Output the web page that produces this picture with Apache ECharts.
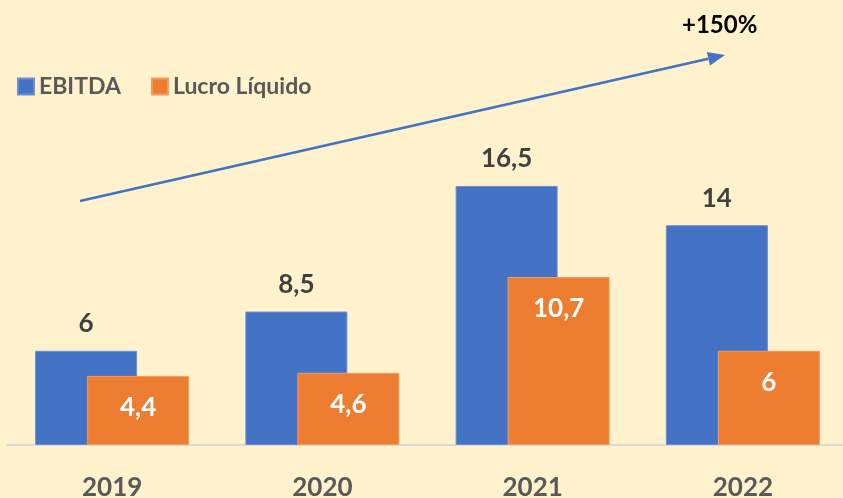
<!DOCTYPE html>
<html>
<head>
<meta charset="utf-8">
<script src="https://cdn.jsdelivr.net/npm/echarts@6/dist/echarts.min.js"></script>
<style>
  html, body { margin: 0; padding: 0; background: #FFF2CC; }
  #chart { width: 843px; height: 498px; }
</style>
</head>
<body>
<div id="chart"></div>
<script>
const years = ['2019', '2020', '2021', '2022']
const ebitda = [6, 8.5, 16.5, 14]
const lucro = [4.4, 4.6, 10.7, 6]

const fmt = p => String(p.value).replace('.', ',')

// seta de crescimento
const a0 = [80, 201]
const a1 = [725, 55]
const dx = a1[0] - a0[0]
const dy = a1[1] - a0[1]
const len = Math.sqrt(dx * dx + dy * dy)
const ux = dx / len
const uy = dy / len
const head = 17
const half = 7
const bx = a1[0] - ux * head
const by = a1[1] - uy * head

const chart = echarts.init(document.getElementById('chart'))
chart.setOption({
  backgroundColor: '#FFF2CC',
  textStyle: { fontFamily: 'Lato' },
  legend: {
    left: 12,
    top: 70,
    itemWidth: 16,
    itemHeight: 16,
    itemGap: 30,
    icon: 'rect',
    textStyle: { fontSize: 23, fontWeight: 'bold', color: '#595959', fontFamily: 'Lato' }
  },
  grid: { left: 7, width: 841, top: 131, bottom: 53, outerBoundsMode: 'none', containLabel: false },
  xAxis: {
    type: 'category',
    data: years,
    axisTick: { show: false },
    axisLine: { lineStyle: { color: '#D9D9D9', width: 2 } },
    axisLabel: { fontSize: 26, fontWeight: 'bold', color: '#595959', margin: 30, fontFamily: 'Lato' }
  },
  yAxis: { type: 'value', min: 0, max: 20, show: false, splitLine: { show: false } },
  series: [
    {
      name: 'EBITDA',
      type: 'bar',
      data: ebitda,
      barWidth: 102,
      barGap: '-49%',
      itemStyle: { color: '#4472C4', borderColor: '#6A8FD3', borderWidth: 1 },
      label: {
        show: true, position: 'top', distance: 14, formatter: fmt,
        fontSize: 26, fontWeight: 'bold', color: '#404040', fontFamily: 'Lato'
      }
    },
    {
      name: 'Lucro Líquido',
      type: 'bar',
      data: lucro,
      barWidth: 102,
      itemStyle: { color: '#ED7D31', borderColor: '#F29C62', borderWidth: 1 },
      label: {
        show: true, position: 'insideTop', distance: 19, formatter: fmt,
        fontSize: 26, fontWeight: 'bold', color: '#FFFFFF', fontFamily: 'Lato'
      }
    }
  ],
  graphic: [
    {
      type: 'line',
      shape: { x1: a0[0], y1: a0[1], x2: bx, y2: by },
      style: { stroke: '#4472C4', lineWidth: 2.5 }
    },
    {
      type: 'polygon',
      shape: {
        points: [
          a1,
          [bx - uy * half, by + ux * half],
          [bx + uy * half, by - ux * half]
        ]
      },
      style: { fill: '#4472C4' }
    },
    {
      type: 'text',
      left: 682,
      top: 13,
      style: { text: '+150%', fontSize: 24, fontWeight: 'bold', fill: '#000000', fontFamily: 'Lato' }
    }
  ]
})
window.addEventListener('resize', () => chart.resize())
</script>
</body>
</html>
